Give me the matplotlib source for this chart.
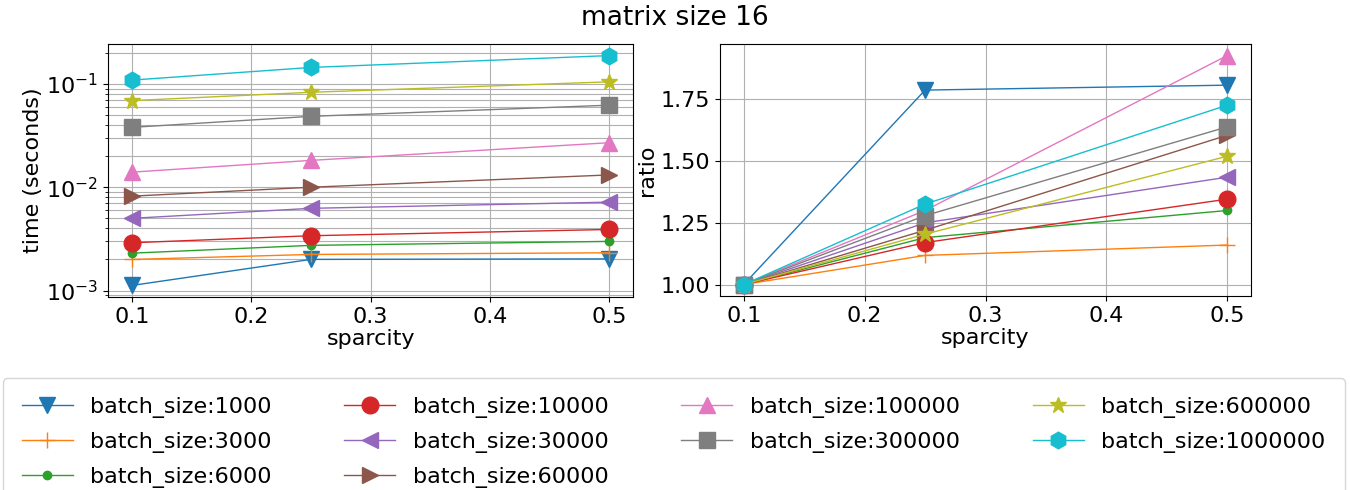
import matplotlib
matplotlib.use("Agg")
import matplotlib.pyplot as plt

# sparsity levels on the x axis
sparcity = [0.1, 0.25, 0.5]

batch_sizes = [1000, 3000, 6000, 10000, 30000, 60000, 100000, 300000, 600000, 1000000]
markers = ['v', '+', '.', 'o', '<', '>', '^', 's', '*', 'h']

# time (seconds) at sparcity 0.1 for each batch size
base_time = [0.00112, 0.0020, 0.0023, 0.0029, 0.0050, 0.0082, 0.0140, 0.038, 0.069, 0.109]

# ratio of time vs. the 0.1 sparcity time
ratio_1000 = [1.0, 1.788, 1.808]
ratio_3000 = [1.0, 1.118, 1.160]
ratio_6000 = [1.0, 1.190, 1.300]
ratio_10000 = [1.0, 1.170, 1.346]
ratio_30000 = [1.0, 1.250, 1.435]
ratio_60000 = [1.0, 1.220, 1.605]
ratio_100000 = [1.0, 1.300, 1.928]
ratio_300000 = [1.0, 1.279, 1.639]
ratio_600000 = [1.0, 1.204, 1.520]
ratio_1000000 = [1.0, 1.326, 1.727]

ratios = [ratio_1000, ratio_3000, ratio_6000, ratio_10000, ratio_30000,
          ratio_60000, ratio_100000, ratio_300000, ratio_600000, ratio_1000000]

plt.rcParams['font.size'] = 16
plt.rcParams['axes.labelsize'] = 16

fig = plt.figure(figsize=(13.5, 4.9), dpi=100)
ax1 = fig.add_axes([0.080, 0.394, 0.389, 0.516])
ax2 = fig.add_axes([0.533, 0.396, 0.394, 0.514])

for bs, mk, t0, r in zip(batch_sizes, markers, base_time, ratios):
    times = [t0 * v for v in r]
    ax1.plot(sparcity, times, marker=mk, markersize=12, linewidth=1,
             label='batch_size:%d' % bs)
    ax2.plot(sparcity, r, marker=mk, markersize=12, linewidth=1)

ax1.set_yscale('log')
ax1.grid(True, which='major')
ax1.grid(True, which='minor', axis='y')
ax1.set_xlabel('sparcity', labelpad=2)
ax1.set_ylabel('time (seconds)', labelpad=2)
ax1.set_xticks([0.1, 0.2, 0.3, 0.4, 0.5])

ax2.grid(True)
ax2.set_xlabel('sparcity', labelpad=2)
ax2.set_ylabel('ratio', labelpad=2)
ax2.set_xticks([0.1, 0.2, 0.3, 0.4, 0.5])
ax2.set_yticks([1.0, 1.25, 1.5, 1.75])

fig.suptitle('matrix size 16', fontsize=19, y=0.99)

handles, labels = ax1.get_legend_handles_labels()
fig.legend(handles, labels, loc='upper left', ncol=4, mode='expand',
           bbox_to_anchor=(0.002, -0.1, 0.994, 0.328), borderaxespad=0,
           borderpad=0.85, fontsize=16, labelspacing=0.62, handlelength=2.3)

plt.savefig('out.png')
